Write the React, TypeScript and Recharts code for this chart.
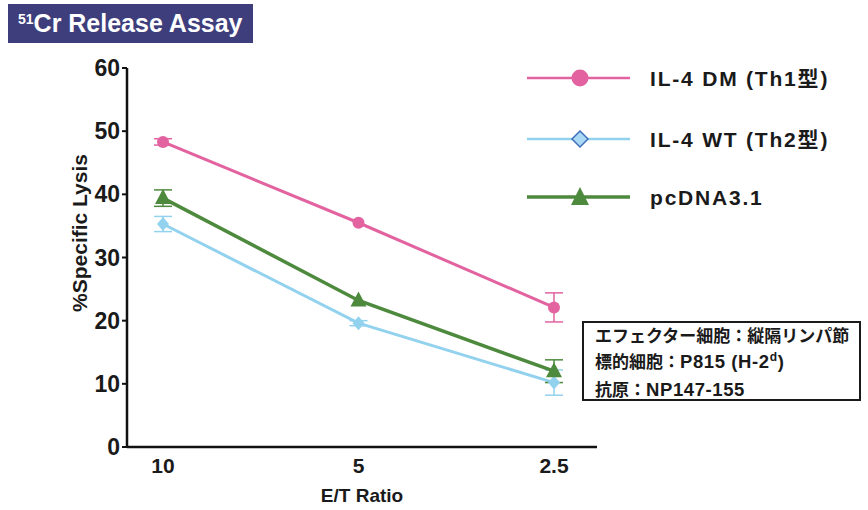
import React from 'react';
import { LineChart, Line, XAxis, YAxis, ErrorBar, Legend } from 'recharts';

const ratios = ['10', '5', '2.5'];
const dmValues = [48.3, 35.5, 22.1];
const dmErrors = [0.5, 0, 2.3];
const wtValues = [35.3, 19.6, 10.2];
const wtErrors = [1.2, 0.4, 2.0];
const pcValues = [39.4, 23.2, 12.0];
const pcErrors = [1.3, 0, 1.8];
const yTicks = [0, 10, 20, 30, 40, 50, 60];

const seriesNames = ['IL-4 DM (Th1型)', 'IL-4 WT (Th2型)', 'pcDNA3.1'];

const PINK = '#e2639f';
const BLUE = '#93d2ee';
const GREEN = '#4d8a3d';
const LATIN = '"Liberation Sans", Arial, sans-serif';
const JP = '"Liberation Sans", "Noto Sans CJK JP", sans-serif';

const data = ratios.map((ratio, i) => ({
  ratio,
  dm: dmValues[i],
  dmErr: dmErrors[i],
  wt: wtValues[i],
  wtErr: wtErrors[i],
  pc: pcValues[i],
  pcErr: pcErrors[i],
}));

const CircleDot = (props: any) => (
  <circle key={props.key} cx={props.cx} cy={props.cy} r={6} fill={PINK} stroke="none" />
);

const DiamondDot = (props: any) => {
  const { cx, cy } = props;
  return (
    <polygon
      key={props.key}
      points={`${cx},${cy - 7} ${cx + 6},${cy} ${cx},${cy + 7} ${cx - 6},${cy}`}
      fill={BLUE}
      stroke="none"
    />
  );
};

const TriangleDot = (props: any) => {
  const { cx, cy } = props;
  return (
    <polygon
      key={props.key}
      points={`${cx},${cy - 9} ${cx + 8},${cy + 6} ${cx - 8},${cy + 6}`}
      fill={GREEN}
      stroke="none"
    />
  );
};

const renderLegend = () => {
  const rows = [
    { y: 18, color: PINK, width: 2.5 },
    { y: 79, color: BLUE, width: 2.5 },
    { y: 137, color: GREEN, width: 3.5 },
  ];
  return (
    <svg width={340} height={160}>
      {rows.map((r, i) => (
        <g key={i}>
          <line x1={7} x2={110} y1={r.y} y2={r.y} stroke={r.color} strokeWidth={r.width} />
          {i === 0 && <circle cx={60} cy={r.y} r={8.5} fill={PINK} />}
          {i === 1 && (
            <polygon
              points={`60,${r.y - 8} 68,${r.y} 60,${r.y + 8} 52,${r.y}`}
              fill="#a9d9f4"
              stroke="#3f6fb8"
              strokeWidth={1.5}
            />
          )}
          {i === 2 && (
            <polygon points={`60,${r.y - 10} 69,${r.y + 8} 51,${r.y + 8}`} fill={GREEN} />
          )}
          <text
            x={130}
            y={r.y + 8}
            fontFamily={JP}
            fontWeight="bold"
            fontSize={21}
            letterSpacing={1.8}
            fill="#1a1a1a"
          >
            {seriesNames[i]}
          </text>
        </g>
      ))}
    </svg>
  );
};

const latinSpan = { fontSize: 18.5, letterSpacing: 0.6 };

export default function App() {
  return (
    <div style={{ position: 'absolute', left: 0, top: 0, width: 868, height: 510, background: '#fff' }}>
      <div
        style={{
          position: 'absolute',
          left: 8,
          top: 4,
          width: 245,
          height: 39,
          background: '#3d3e7b',
          color: '#fff',
          fontFamily: LATIN,
          fontWeight: 'bold',
          fontSize: 25,
          lineHeight: '39px',
          paddingLeft: 10,
          boxSizing: 'border-box',
          whiteSpace: 'nowrap',
        }}
      >
        <sup style={{ fontSize: 14, verticalAlign: 0, position: 'relative', top: -8 }}>51</sup>
        Cr Release Assay
      </div>

      <LineChart
        width={868}
        height={510}
        data={data}
        margin={{ top: 68, right: 271, bottom: 33, left: 77 }}
      >
        <XAxis
          dataKey="ratio"
          padding={{ left: 36, right: 43 }}
          axisLine={{ stroke: '#111', strokeWidth: 2.5 }}
          tickLine={false}
          tickMargin={5}
          tick={{ fill: '#1a1a1a', fontSize: 21, fontWeight: 'bold', fontFamily: LATIN }}
          label={{
            content: ({ viewBox }: any) => (
              <text
                x={viewBox.x + viewBox.width / 2}
                y={viewBox.y + 55}
                textAnchor="middle"
                fontFamily={LATIN}
                fontWeight="bold"
                fontSize={19}
                fill="#1a1a1a"
              >
                E/T Ratio
              </text>
            ),
          }}
        />
        <YAxis
          width={50}
          domain={[0, 60]}
          ticks={yTicks}
          interval={0}
          axisLine={{ stroke: '#111', strokeWidth: 2.5 }}
          tickLine={{ stroke: '#111', strokeWidth: 2 }}
          tickSize={5}
          tickMargin={2}
          tick={{ fill: '#1a1a1a', fontSize: 23, fontWeight: 'bold', fontFamily: LATIN }}
          label={{
            content: () => (
              <text
                x={79}
                y={233}
                transform="rotate(-90, 79, 233)"
                textAnchor="middle"
                dominantBaseline="central"
                fontFamily={LATIN}
                fontWeight="bold"
                fontSize={21}
                fill="#1a1a1a"
              >
                %Specific Lysis
              </text>
            ),
          }}
        />
        <Legend
          layout="horizontal"
          verticalAlign="middle"
          align="center"
          content={renderLegend}
          wrapperStyle={{ left: 520, top: 60, width: 340, height: 160 }}
        />
        <Line
          dataKey="wt"
          name={seriesNames[1]}
          stroke={BLUE}
          strokeWidth={3}
          dot={DiamondDot}
          activeDot={false}
          isAnimationActive={false}
        >
          <ErrorBar dataKey="wtErr" width={9} stroke={BLUE} strokeWidth={1.5} direction="y" />
        </Line>
        <Line
          dataKey="pc"
          name={seriesNames[2]}
          stroke={GREEN}
          strokeWidth={3.5}
          dot={TriangleDot}
          activeDot={false}
          isAnimationActive={false}
        >
          <ErrorBar dataKey="pcErr" width={9} stroke={GREEN} strokeWidth={1.5} direction="y" />
        </Line>
        <Line
          dataKey="dm"
          name={seriesNames[0]}
          stroke={PINK}
          strokeWidth={3}
          dot={CircleDot}
          activeDot={false}
          isAnimationActive={false}
        >
          <ErrorBar dataKey="dmErr" width={9} stroke={PINK} strokeWidth={1.5} direction="y" />
        </Line>
      </LineChart>

      <div
        style={{
          position: 'absolute',
          left: 582,
          top: 321,
          width: 279,
          height: 80,
          border: '2px solid #1a1a1a',
          boxSizing: 'border-box',
          paddingLeft: 11,
          paddingTop: 1,
          fontFamily: JP,
          fontWeight: 'bold',
          fontSize: 17,
          lineHeight: '25px',
          color: '#1a1a1a',
          whiteSpace: 'nowrap',
          background: '#fff',
        }}
      >
        <div>エフェクター細胞：縦隔リンパ節</div>
        <div>
          標的細胞：<span style={latinSpan}>P815 (H-2<sup style={{ fontSize: 12, verticalAlign: 0, position: 'relative', top: -7 }}>d</sup>)</span>
        </div>
        <div>
          抗原：<span style={latinSpan}>NP147-155</span>
        </div>
      </div>
    </div>
  );
}
